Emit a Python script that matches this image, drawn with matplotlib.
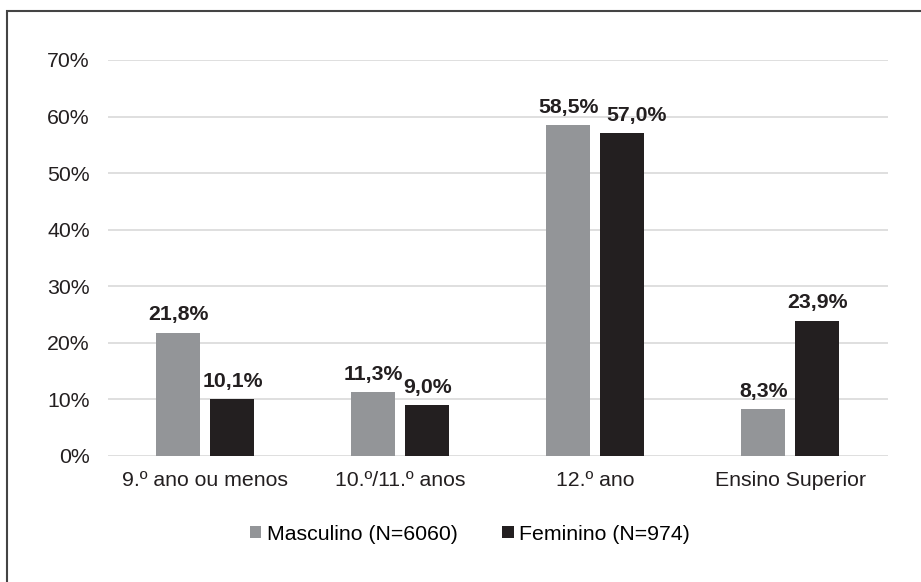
import numpy as np
import matplotlib.pyplot as plt
from matplotlib.patches import Rectangle

plt.rcParams['font.family'] = ['Liberation Sans', 'DejaVu Sans']

# Dados
categorias = ['9.º ano ou menos', '10.º/11.º anos', '12.º ano', 'Ensino Superior']
masculino = [21.8, 11.3, 58.5, 8.3]
feminino = [10.1, 9.0, 57.0, 23.9]
rotulo_masc = 'Masculino (N=6060)'
rotulo_fem = 'Feminino (N=974)'
yticks = [0, 10, 20, 30, 40, 50, 60, 70]

cor_masc = '#939598'
cor_fem = '#231f20'
fs = 15.3

fig = plt.figure(figsize=(9.21, 5.82), dpi=100)
ax = fig.add_axes([0.117, 0.2165, 0.847, 0.6805])

x = np.arange(len(categorias))
largura = 0.226
desloc = 0.139

b1 = ax.bar(x - desloc, masculino, largura, color=cor_masc, label=rotulo_masc, zorder=3)
b2 = ax.bar(x + desloc, feminino, largura, color=cor_fem, label=rotulo_fem, zorder=3)

for barras, vals in [(b1, masculino), (b2, feminino)]:
    for bar, v in zip(barras, vals):
        # o rótulo de 57,0% está ligeiramente deslocado no original
        dx = 10 if (barras is b2 and v == 57.0) else 0
        ax.annotate(f'{v:.1f}%'.replace('.', ','),
                    (bar.get_x() + bar.get_width() / 2, v),
                    xytext=(dx, 6), textcoords='offset points',
                    ha='center', va='bottom', fontsize=fs,
                    fontweight='bold', color='#231f20', zorder=4)

ax.set_xlim(-0.5, len(categorias) - 0.5)
ax.set_ylim(0, 70)
ax.set_yticks(yticks)
ax.set_yticklabels([f'{t}%' for t in yticks])
ax.set_xticks(x)
ax.set_xticklabels(categorias)
ax.tick_params(axis='both', length=0, labelsize=fs, labelcolor='#231f20')
ax.tick_params(axis='y', pad=13)
ax.tick_params(axis='x', pad=11)
ax.grid(axis='y', color='#d9d9d9', linewidth=1.2, zorder=0)
for s in ax.spines.values():
    s.set_visible(False)

ax.legend(loc='center', bbox_to_anchor=(0.464, -0.197), ncol=2,
          frameon=False, fontsize=fs, handlelength=0.55, handleheight=0.55,
          handletextpad=0.25, columnspacing=2.1)

# Moldura
fig.patches.append(Rectangle((7 / 921, -0.05), 1.0, 1 - 11 / 582 + 0.05,
                             transform=fig.transFigure, fill=False,
                             edgecolor='#444444', linewidth=1.5))

fig.savefig('out.png', dpi=100)
